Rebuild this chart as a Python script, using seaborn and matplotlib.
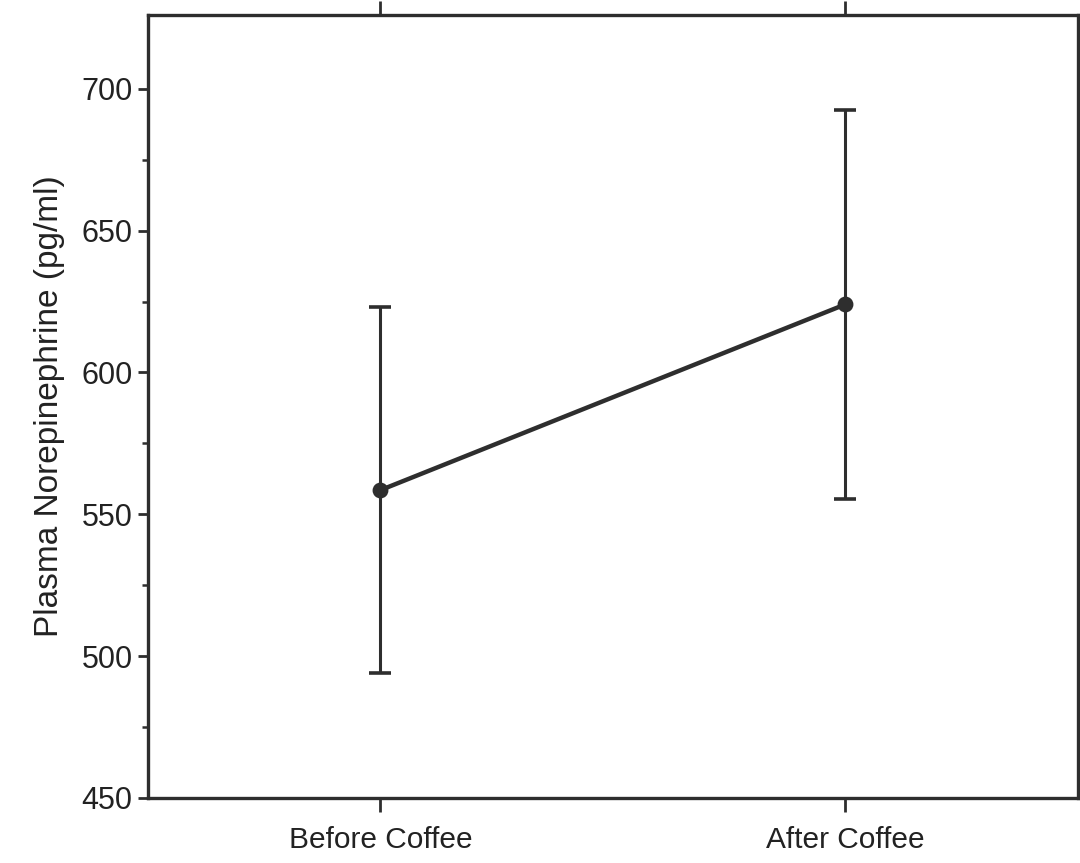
import matplotlib
matplotlib.use("Agg")
import matplotlib.pyplot as plt
import seaborn as sns
import pandas as pd
from matplotlib.ticker import FixedLocator

# Mean plasma norepinephrine with error bars, before and after coffee
conditions = ["Before Coffee", "After Coffee"]
means = [558.5, 624.0]
errors = [64.5, 68.5]

yticks = [450, 500, 550, 600, 650, 700]
yminor = [475, 525, 575, 625, 675]

sns.set_theme(style="white")
plt.rcParams["font.family"] = ["Liberation Sans", "DejaVu Sans"]

df = pd.DataFrame({"condition": conditions, "value": means})

fig = plt.figure(figsize=(10.8, 8.63), dpi=100)
ax = fig.add_axes([0.137, 0.0755, 0.861, 0.907])

ink = "#2e2e2e"

ax.errorbar(range(len(conditions)), means, yerr=errors, fmt="none",
            ecolor=ink, elinewidth=2.2, capsize=8, capthick=2.6, zorder=2)
sns.pointplot(data=df, x="condition", y="value", order=conditions,
              color=ink, errorbar=None, markers="o", markersize=9,
              linewidth=3.2, ax=ax, zorder=3)

ax.set_xlim(-0.5, 1.5)
ax.set_ylim(450, 726)
ax.set_yticks(yticks)
ax.set_yticklabels([str(t) for t in yticks])
ax.yaxis.set_minor_locator(FixedLocator(yminor))

ax.set_xlabel("")
ax.set_ylabel("Plasma Norepinephrine (pg/ml)", fontsize=24, color="#222222", labelpad=12)

for side in ["left", "right", "top", "bottom"]:
    ax.spines[side].set_visible(True)
    ax.spines[side].set_color(ink)
    ax.spines[side].set_linewidth(2.4)

ax.tick_params(axis="y", which="major", direction="out", length=7, width=2,
               color=ink, labelsize=22, labelcolor="#222222", left=True, pad=4)
ax.tick_params(axis="y", which="minor", direction="out", length=4, width=1.8,
               color=ink, left=True)
ax.tick_params(axis="x", which="major", direction="out", length=10, width=2,
               color=ink, labelsize=21.5, labelcolor="#222222", bottom=True,
               top=True, pad=10)

fig.savefig("out.png", dpi=100, facecolor="white")
